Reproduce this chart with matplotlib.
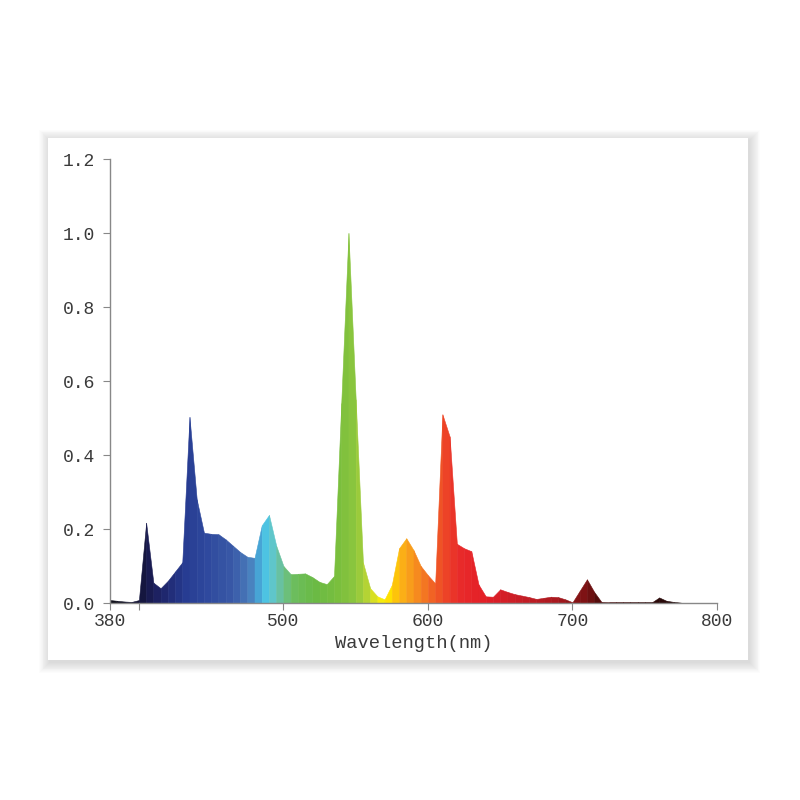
import numpy as np
import matplotlib
matplotlib.use('Agg')
import matplotlib.pyplot as plt
from matplotlib.colors import LinearSegmentedColormap
from matplotlib.patches import Rectangle

# spectrum sampled every 5 nm
wavelength = list(range(380, 805, 5))
intensity = [
    0.008, 0.006, 0.004, 0.003, 0.008, 0.217, 0.055, 0.040, 0.060, 0.085,   # 380-425
    0.110, 0.503, 0.280, 0.190, 0.187, 0.186, 0.172, 0.155, 0.138, 0.125,   # 430-475
    0.122, 0.210, 0.238, 0.155, 0.100, 0.078, 0.079, 0.080, 0.070, 0.057,   # 480-525
    0.051, 0.073, 0.540, 1.000, 0.550, 0.110, 0.040, 0.018, 0.010, 0.049,   # 530-575
    0.148, 0.175, 0.143, 0.100, 0.075, 0.053, 0.510, 0.450, 0.160, 0.148,   # 580-625
    0.140, 0.050, 0.018, 0.017, 0.037, 0.030, 0.024, 0.020, 0.016, 0.011,   # 630-675
    0.014, 0.017, 0.016, 0.010, 0.002, 0.033, 0.064, 0.030, 0.003, 0.002,   # 680-725
    0.002, 0.002, 0.002, 0.002, 0.002, 0.002, 0.015, 0.006, 0.003, 0.001,   # 730-775
    0.001, 0.001, 0.001, 0.001, 0.001,                                      # 780-800
]

x_ticks = [380, 400, 500, 600, 700, 800]
x_tick_labels = ['380', '', '500', '600', '700', '800']
y_ticks = [0.0, 0.2, 0.4, 0.6, 0.8, 1.0, 1.2]

# wavelength -> colour anchors for the rainbow fill
color_stops = [
    (380, '#101018'), (400, '#14143a'), (410, '#1c1f5e'), (430, '#263a90'),
    (445, '#2d479c'), (465, '#3a5aa8'), (475, '#4878b8'), (480, '#4a90c8'),
    (485, '#44bfe6'), (490, '#5ac8dc'), (495, '#66c2b0'), (500, '#6cc08a'),
    (505, '#6cbd60'), (520, '#6aba45'), (540, '#7cbf3c'), (550, '#8cc63f'),
    (558, '#b5d334'), (565, '#e8e41a'), (570, '#fff200'), (575, '#ffd200'),
    (580, '#fcb813'), (590, '#f7941d'), (600, '#f26b24'), (610, '#ee4a26'),
    (620, '#e92b2a'), (640, '#e31e27'), (660, '#cc1f27'), (690, '#a8181e'),
    (700, '#8a1416'), (710, '#7a1214'), (720, '#4a0a0a'), (760, '#2a0808'),
    (800, '#151010'),
]
cmap = LinearSegmentedColormap.from_list(
    'spec', [((w - 380) / 420, c) for w, c in color_stops])

fig = plt.figure(figsize=(8, 8), dpi=100)
fig.patch.set_facecolor('white')

# card with a soft shadow (heavier toward the bottom right)
cx0, cy0, cx1, cy1 = 48 / 800, 1 - 660 / 800, 748 / 800, 1 - 138 / 800
for k in range(12, 0, -1):
    d = k * 0.0011
    fig.patches.append(Rectangle((cx0 - d + 0.002, cy0 - d - 0.003),
                                 cx1 - cx0 + 2 * d, cy1 - cy0 + 2 * d,
                                 transform=fig.transFigure, facecolor='#000000',
                                 alpha=0.012, edgecolor='none', zorder=0))
fig.patches.append(Rectangle((cx0, cy0), cx1 - cx0, cy1 - cy0,
                             transform=fig.transFigure, facecolor='white',
                             edgecolor='none', zorder=1))

ax = fig.add_axes([110 / 800, 1 - 603 / 800, 607 / 800, 444 / 800])
ax.set_facecolor('none')
ax.set_zorder(2)

for i in range(len(wavelength) - 1):
    xs = wavelength[i:i + 2]
    ys = intensity[i:i + 2]
    col = cmap((xs[0] + 2.5 - 380) / 420)
    ax.fill_between(xs, 0, ys, color=col, edgecolor=col, lw=0.4)

ax.set_xlim(380, 800)
ax.set_ylim(0, 1.2)
ax.set_xticks(x_ticks)
ax.set_xticklabels(x_tick_labels)
ax.set_yticks(y_ticks)
ax.set_yticklabels(['{:.1f}'.format(v) for v in y_ticks])

mono = 'Liberation Mono'
for lab in ax.get_xticklabels() + ax.get_yticklabels():
    lab.set_fontfamily(mono)
    lab.set_fontsize(13)
    lab.set_color('#3a3a3a')
ax.set_xlabel('Wavelength(nm)', fontfamily=mono, fontsize=13.5,
              color='#3a3a3a', labelpad=4)

for s in ['top', 'right']:
    ax.spines[s].set_visible(False)
for s in ['left', 'bottom']:
    ax.spines[s].set_color('#888888')
    ax.spines[s].set_linewidth(1.0)
ax.tick_params(axis='x', length=5, width=0.8, color='#888888', pad=2)
ax.tick_params(axis='y', length=5, width=0.8, color='#888888', pad=6)

fig.savefig('out.png', dpi=100, facecolor='white')
